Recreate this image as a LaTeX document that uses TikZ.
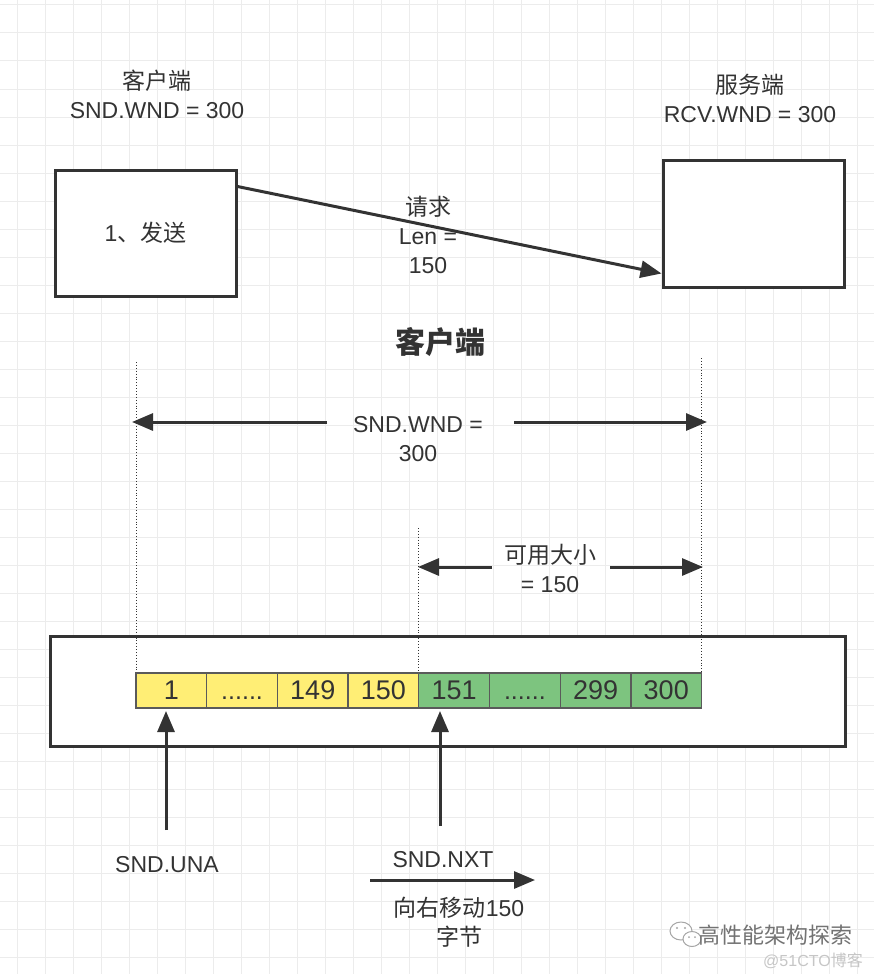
\documentclass[tikz,border=0pt]{standalone}
\usepackage{fontspec}
\setmainfont{Liberation Sans}
\newfontfamily\cjk{Noto Sans CJK SC}
\usetikzlibrary{arrows.meta}
\definecolor{ink}{HTML}{333333}
\definecolor{gridc}{HTML}{ECECEC}
\definecolor{cellY}{HTML}{FFEE75}
\definecolor{cellG}{HTML}{7DC47F}
\definecolor{cellB}{HTML}{5A5A5A}
\newcommand\celldots{{\fontsize{25}{27}\selectfont......}}
\tikzset{
  gridline/.style={draw=gridc, line width=1pt},
  bigbox/.style={draw=ink, line width=3pt, fill=white, minimum width=181pt, minimum height=126pt, inner sep=0pt, text=ink, font=\fontsize{23}{28}\selectfont},
  lbl/.style={text=ink, align=center, inner sep=0pt, font=\fontsize{23}{29}\selectfont},
  cell/.style={draw=cellB, line width=1.3pt, minimum width=70.7pt, minimum height=35pt, inner sep=0pt, text=ink, font=\fontsize{27}{30}\selectfont},
  conn/.style={draw=ink, line width=3pt, -{Triangle[length=21pt,width=17pt]}},
  guide/.style={draw=ink, line width=0.9pt, dotted},
}
\begin{document}
\begin{tikzpicture}[x=1pt,y=-1pt]
\useasboundingbox (0,0) rectangle (874,974);
\fill[white] (0,0) rectangle (874,974);
\foreach \x in {17,45,...,873} \draw[gridline] (\x,0) -- (\x,974);
\foreach \y in {5,33,...,973} \draw[gridline] (0,\y) -- (874,\y);

% top part
\node[lbl] (ctitle) at (157,94) {{\cjk 客户端}\\SND.WND = 300};
\node[lbl] (stitle) at (750,98) {{\cjk 服务端}\\RCV.WND = 300};
\node[bigbox] (lbox) at (145.5,233) {1{\cjk 、发送}};
\node[bigbox, minimum height=127pt] (rbox) at (753.5,223.5) {};
\draw[conn] ([yshift=-18pt]lbox.north east) -- ([yshift=15pt]rbox.south west);
\node[lbl] (req) at (428,235) {{\cjk 请求}\\Len =\\150};

% client section
\node[text=ink, inner sep=0pt, font=\cjk\bfseries\fontsize{30}{32}\selectfont] (client) at (440,342) {客户端};

% outer frame
\node[draw=ink, line width=3pt, fill=white, minimum width=795pt, minimum height=110pt, inner sep=0pt] (frame) at (447.5,691) {};

% guides
\coordinate (gl) at (136,362);
\coordinate (gm) at (418,528);
\coordinate (gr) at (701,358);
\coordinate (gly) at (136,708);
\coordinate (gmy) at (418,708);
\coordinate (gry) at (701,708);
\draw[guide] (gl) -- (gly);
\draw[guide] (gm) -- (gmy);
\draw[guide] (gr) -- (gry);

% SND.WND span
\node[lbl] (wnd) at (418,439) {SND.WND =\\300};
\coordinate (wa) at (327,422);
\coordinate (wb) at (514,422);
\coordinate (wl) at (132,422);
\coordinate (wr) at (707,422);
\draw[conn] (wa) -- (wl);
\draw[conn] (wb) -- (wr);

% available span
\node[lbl] (avail) at (550,568) {{\cjk 可用大小}\\= 150};
\coordinate (aa) at (492,567);
\coordinate (ab) at (610,567);
\coordinate (al) at (418,567);
\coordinate (ar) at (703,567);
\draw[conn] (aa) -- (al);
\draw[conn] (ab) -- (ar);

% cells
\foreach \i/\t/\c in {0/1/cellY,1/\celldots/cellY,2/149/cellY,3/150/cellY,4/151/cellG,5/\celldots/cellG,6/299/cellG,7/300/cellG}{
  \node[cell, fill=\c] (c\i) at ({136+35.35+70.7*\i},690.5) {\vphantom{0}\t};
}

% pointers
\coordinate (una0) at (166,830);
\coordinate (una1) at (166,711);
\coordinate (nxt0) at (440,826);
\coordinate (nxt1) at (440,711);
\draw[conn] (una0) -- (una1);
\draw[conn] (nxt0) -- (nxt1);
\node[lbl] (unal) at (167,865) {SND.UNA};
\node[lbl] (nxtl) at (443,860) {SND.NXT};
\coordinate (mv0) at (370,880);
\coordinate (mv1) at (535,880);
\draw[conn] (mv0) -- (mv1);
\node[lbl] (mvl) at (459,922) {{\cjk 向右移动}150\\{\cjk 字节}};

% watermark
\draw[draw=gray!70, line width=1pt, fill=white] (681,931) ellipse (11pt and 9pt);
\draw[draw=gray!70, line width=1pt, fill=white] (692,939) ellipse (9pt and 7.5pt);
\fill[gray!70] (677,928) circle (1.2pt) (685,928) circle (1.2pt) (689,937) circle (1pt) (695,937) circle (1pt);
\node[text=gray!90!black, inner sep=0pt, font=\cjk\fontsize{22}{24}\selectfont] (wm1) at (775,935) {高性能架构探索};
\node[text=gray!45, inner sep=0pt, font=\fontsize{16}{18}\selectfont] (wm2) at (813,961) {@51CTO{\cjk 博客}};
\end{tikzpicture}
\end{document}
